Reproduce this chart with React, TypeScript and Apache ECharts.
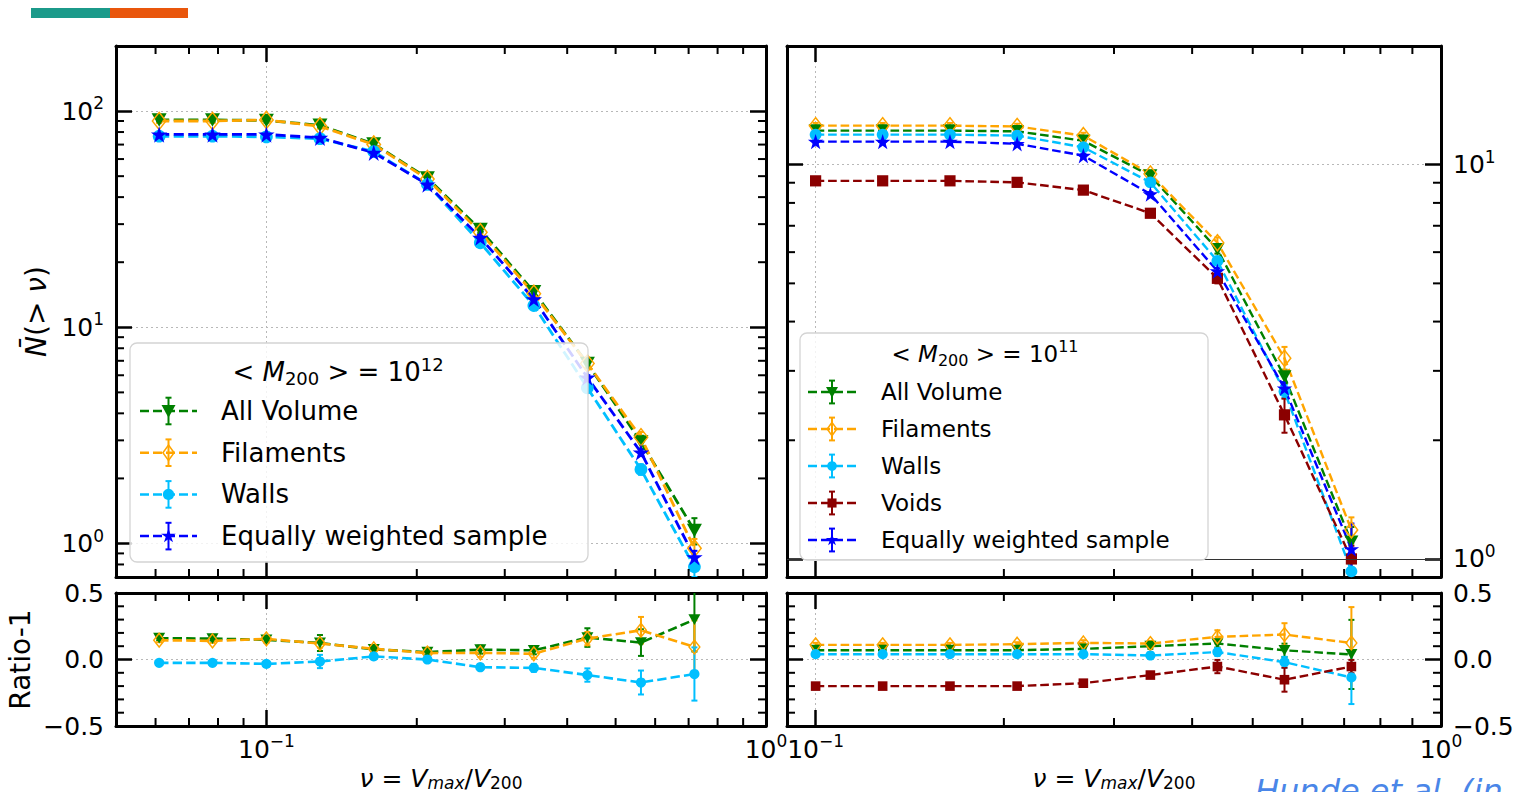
import React, { useEffect, useRef } from 'react';
import * as echarts from 'echarts';

const FONT = 'DejaVu Sans';

// ν = Vmax / V200 bin centres
const nuLeft = [0.061, 0.078, 0.1, 0.128, 0.164, 0.21, 0.268, 0.343, 0.439, 0.562, 0.719];
const nuRight = [0.1, 0.128, 0.164, 0.21, 0.268, 0.343, 0.439, 0.562, 0.719];

// <M200> = 10^12 : mean cumulative subhalo counts N(>ν)
const m12AllVolume = [91, 91, 90.5, 86, 70.5, 49, 28.3, 14.6, 6.8, 2.95, 1.15];
const m12AllVolumeErr = [2, 2, 2, 2.5, 2, 1.5, 1, 0.6, 0.35, 0.2, 0.16];
const m12Filaments = [90, 90, 91, 85, 70, 48.5, 27.5, 14.3, 6.8, 3.1, 0.95];
const m12FilamentsErr = [2, 2, 2, 2, 1.5, 1.2, 0.8, 0.5, 0.3, 0.18, 0.1];
const m12Walls = [76.5, 76.5, 76, 74.5, 65, 45.8, 24.6, 12.6, 5.25, 2.2, 0.78];
const m12WallsErr = [1.5, 1.5, 1.5, 1.5, 1.2, 1, 0.7, 0.4, 0.25, 0.12, 0.08];
const m12Equal = [78, 78, 78, 75.3, 64.2, 45.8, 26, 13.5, 5.86, 2.64, 0.865];
const m12EqualErr = [1, 1, 1, 1, 0.8, 0.6, 0.4, 0.3, 0.15, 0.08, 0.06];

// <M200> = 10^12 : ratio to the equally weighted sample, minus one
const m12AllVolumeRatio = [0.16, 0.157, 0.148, 0.124, 0.076, 0.056, 0.074, 0.069, 0.165, 0.127, 0.3];
const m12AllVolumeRatioErr = [0.015, 0.015, 0.02, 0.06, 0.02, 0.02, 0.03, 0.03, 0.07, 0.1, 0.24];
const m12FilamentsRatio = [0.145, 0.14, 0.155, 0.12, 0.081, 0.048, 0.05, 0.043, 0.157, 0.22, 0.094];
const m12FilamentsRatioErr = [0.015, 0.015, 0.02, 0.03, 0.02, 0.02, 0.03, 0.03, 0.05, 0.1, 0.2];
const m12WallsRatio = [-0.025, -0.025, -0.033, -0.015, 0.023, 0, -0.058, -0.063, -0.117, -0.173, -0.109];
const m12WallsRatioErr = [0.015, 0.015, 0.02, 0.05, 0.02, 0.02, 0.02, 0.03, 0.05, 0.09, 0.2];

// <M200> = 10^11 : mean cumulative subhalo counts N(>ν)
const m11AllVolume = [12.2, 12.2, 12.2, 12.15, 11.5, 9.38, 6.1, 2.9, 1.105];
const m11AllVolumeErr = [0.2, 0.2, 0.2, 0.2, 0.2, 0.18, 0.15, 0.12, 0.1];
const m11Filaments = [12.56, 12.56, 12.56, 12.5, 11.85, 9.47, 6.34, 3.23, 1.185];
const m11FilamentsErr = [0.2, 0.2, 0.2, 0.2, 0.2, 0.2, 0.2, 0.22, 0.09];
const m11Walls = [11.92, 11.92, 11.92, 11.85, 11.07, 9.02, 5.7, 2.66, 0.93];
const m11WallsErr = [0.15, 0.15, 0.15, 0.15, 0.15, 0.15, 0.12, 0.1, 0.08];
const m11Voids = [9.1, 9.1, 9.1, 9.02, 8.62, 7.53, 5.15, 2.32, 1.0];
const m11VoidsErr = [0.15, 0.15, 0.15, 0.15, 0.15, 0.15, 0.15, 0.23, 0.08];
const m11Equal = [11.44, 11.44, 11.44, 11.3, 10.54, 8.42, 5.37, 2.71, 1.06];
const m11EqualErr = [0.1, 0.1, 0.1, 0.1, 0.1, 0.1, 0.1, 0.1, 0.17];

// <M200> = 10^11 : ratio to the equally weighted sample, minus one
const m11AllVolumeRatio = [0.07, 0.07, 0.07, 0.07, 0.08, 0.1, 0.12, 0.069, 0.038];
const m11AllVolumeRatioErr = [0.015, 0.015, 0.015, 0.015, 0.02, 0.02, 0.03, 0.05, 0.26];
const m11FilamentsRatio = [0.11, 0.11, 0.11, 0.115, 0.125, 0.12, 0.17, 0.188, 0.124];
const m11FilamentsRatioErr = [0.015, 0.015, 0.015, 0.015, 0.02, 0.02, 0.05, 0.085, 0.27];
const m11WallsRatio = [0.04, 0.04, 0.04, 0.04, 0.04, 0.03, 0.056, -0.02, -0.135];
const m11WallsRatioErr = [0.015, 0.015, 0.015, 0.015, 0.02, 0.02, 0.03, 0.04, 0.2];
const m11VoidsRatio = [-0.2, -0.2, -0.2, -0.2, -0.178, -0.117, -0.053, -0.152, -0.053];
const m11VoidsRatioErr = [0.015, 0.015, 0.015, 0.015, 0.02, 0.02, 0.05, 0.09, 0.05];

// minor tick positions
const xMinorLeft = [0.06, 0.07, 0.08, 0.09, 0.2, 0.3, 0.4, 0.5, 0.6, 0.7, 0.8, 0.9];
const xMinorRight = [0.2, 0.3, 0.4, 0.5, 0.6, 0.7, 0.8, 0.9];
const yMinorM12 = [0.8, 0.9, 2, 3, 4, 5, 6, 7, 8, 9, 20, 30, 40, 50, 60, 70, 80, 90];
const yMinorM11 = [2, 3, 4, 5, 6, 7, 8, 9];
const yMinorRatio = [-0.4, -0.3, -0.2, -0.1, 0.1, 0.2, 0.3, 0.4];

const COLORS = {
  all: '#008000',
  fil: '#FFA500',
  walls: '#00BFFF',
  voids: '#8B0000',
  equal: '#0000FF',
};

const STAR =
  'path://M0,-10L2.245,-3.09L9.51,-3.09L3.633,1.18L5.88,8.09L0,3.82L-5.88,8.09L-3.633,1.18L-9.51,-3.09L-2.245,-3.09Z';

type Mark = 'tri' | 'dia' | 'circ' | 'star' | 'sq';

function markerOpts(kind: Mark, color: string, size: number) {
  switch (kind) {
    case 'tri':
      return { symbol: 'triangle', symbolRotate: 180, symbolSize: [size, size * 0.9], itemStyle: { color } };
    case 'dia':
      return {
        symbol: 'diamond',
        symbolSize: [size * 0.9, size * 1.15],
        itemStyle: { color: 'rgba(255,255,255,0)', borderColor: color, borderWidth: 1.5 },
      };
    case 'circ':
      return { symbol: 'circle', symbolSize: size * 0.85, itemStyle: { color } };
    case 'star':
      return { symbol: STAR, symbolSize: size * 1.1, itemStyle: { color } };
    default:
      return { symbol: 'rect', symbolSize: size * 0.8, itemStyle: { color } };
  }
}

function curve(name: string, xs: number[], ys: number[], color: string, kind: Mark, size: number, g: number, lw: number) {
  return {
    type: 'line',
    name,
    xAxisIndex: 2 * g,
    yAxisIndex: 2 * g,
    data: xs.map((x, i) => [x, ys[i]]),
    lineStyle: { color, width: lw, type: [lw * 3.6, lw * 1.6] },
    ...markerOpts(kind, color, size),
    showAllSymbol: true,
    clip: true,
    silent: true,
    z: 3,
  };
}

function errBars(xs: number[], ys: number[], es: number[], color: string, g: number) {
  return {
    type: 'custom',
    xAxisIndex: 2 * g,
    yAxisIndex: 2 * g,
    clip: true,
    silent: true,
    z: 3,
    encode: { x: 0, y: 1 },
    data: xs.map((x, i) => [x, ys[i], es[i]]),
    renderItem: (_p: any, api: any) => {
      const x = api.value(0);
      const y = api.value(1);
      const e = api.value(2);
      const a = api.coord([x, y + e]);
      const b = api.coord([x, y - e]);
      const st = { stroke: color, lineWidth: 2 };
      return {
        type: 'group',
        children: [
          { type: 'line', shape: { x1: a[0], y1: a[1], x2: b[0], y2: b[1] }, style: st },
          { type: 'line', shape: { x1: a[0] - 3, y1: a[1], x2: a[0] + 3, y2: a[1] }, style: st },
          { type: 'line', shape: { x1: b[0] - 3, y1: b[1], x2: b[0] + 3, y2: b[1] }, style: st },
        ],
      };
    },
  };
}

const MINOR_LEN = 8;

function xMinor(vals: number[], g: number, yRef: number) {
  return {
    type: 'custom',
    xAxisIndex: 2 * g,
    yAxisIndex: 2 * g,
    silent: true,
    z: 6,
    encode: { x: 0, y: 1 },
    data: vals.map((v) => [v, yRef]),
    renderItem: (params: any, api: any) => {
      const cs = params.coordSys;
      const px = api.coord([api.value(0), api.value(1)])[0];
      const yb = cs.y + cs.height;
      const st = { stroke: '#000', lineWidth: 2 };
      return {
        type: 'group',
        children: [
          { type: 'line', shape: { x1: px, y1: yb, x2: px, y2: yb - MINOR_LEN }, style: st },
          { type: 'line', shape: { x1: px, y1: cs.y, x2: px, y2: cs.y + MINOR_LEN }, style: st },
        ],
      };
    },
  };
}

function yMinor(vals: number[], g: number, xRef: number) {
  return {
    type: 'custom',
    xAxisIndex: 2 * g,
    yAxisIndex: 2 * g,
    silent: true,
    z: 6,
    encode: { x: 0, y: 1 },
    data: vals.map((v) => [xRef, v]),
    renderItem: (params: any, api: any) => {
      const cs = params.coordSys;
      const py = api.coord([api.value(0), api.value(1)])[1];
      const xr = cs.x + cs.width;
      const st = { stroke: '#000', lineWidth: 2 };
      return {
        type: 'group',
        children: [
          { type: 'line', shape: { x1: cs.x, y1: py, x2: cs.x + MINOR_LEN, y2: py }, style: st },
          { type: 'line', shape: { x1: xr, y1: py, x2: xr - MINOR_LEN, y2: py }, style: st },
        ],
      };
    },
  };
}

const supText = (e: number) => (e < 0 ? '\u2212' + -e : String(e));
const logLabel = (v: number) => {
  const e = Math.log10(v);
  const r = Math.round(e);
  if (Math.abs(e - r) > 1e-6) return '';
  return `{b|10}{s|${supText(r)}}`;
};
const ratioLabel = (v: number) =>
  Math.abs(v) < 1e-9 ? '0.0' : (v < 0 ? '\u2212' : '') + Math.abs(v).toFixed(1);

const tickRich = {
  b: { fontFamily: FONT, fontSize: 25, color: '#000', lineHeight: 30 },
  s: { fontFamily: FONT, fontSize: 17, color: '#000', lineHeight: 30, padding: [0, 0, 16, 0] },
};

const nameRich = {
  n: { fontFamily: FONT, fontSize: 25, color: '#000', lineHeight: 24 },
  i: { fontFamily: FONT, fontSize: 25, fontStyle: 'italic', color: '#000', lineHeight: 24 },
  si: { fontFamily: FONT, fontSize: 17, fontStyle: 'italic', color: '#000', lineHeight: 24, padding: [8, 0, 0, 0] },
  sn: { fontFamily: FONT, fontSize: 17, color: '#000', lineHeight: 24, padding: [8, 0, 0, 0] },
  big: { fontFamily: FONT, fontSize: 28, color: '#000', lineHeight: 32 },
  bigi: { fontFamily: FONT, fontSize: 28, fontStyle: 'italic', color: '#000', lineHeight: 32 },
};

type Panel = {
  left: number;
  top: number;
  width: number;
  height: number;
  x: [number, number];
  y: [number, number];
  ylog: boolean;
  xLabels: boolean;
  ySide: 'left' | 'right';
  xName?: string;
  yName?: string;
  yNameGap?: number;
};

const X_NAME = '{i|\u03bd}{n| = }{i|V}{si|max}{n|/}{i|V}{sn|200}';

const panels: Panel[] = [
  { left: 116, top: 46, width: 650, height: 531, x: [0.05, 1], y: [0.7, 200], ylog: true, xLabels: false, ySide: 'left', yName: '{bigi|N\u0304}{big|(> }{bigi|\u03bd}{big|)}', yNameGap: 64 },
  { left: 116, top: 593, width: 650, height: 133, x: [0.05, 1], y: [-0.5, 0.5], ylog: false, xLabels: true, ySide: 'left', xName: X_NAME, yName: '{big|Ratio-1}', yNameGap: 80 },
  { left: 787, top: 46, width: 654, height: 531, x: [0.09, 1], y: [0.9, 20], ylog: true, xLabels: false, ySide: 'right' },
  { left: 787, top: 593, width: 654, height: 133, x: [0.09, 1], y: [-0.5, 0.5], ylog: false, xLabels: true, ySide: 'right', xName: X_NAME },
];

const frameLine = { show: true, onZero: false, lineStyle: { color: '#000', width: 3 } };
const majorTick = { show: true, inside: true, length: 16, lineStyle: { color: '#000', width: 2.5 } };
const gridLine = { show: true, lineStyle: { color: '#b8b8b8', width: 1, type: [2, 3] } };

function buildAxes() {
  const xAxis: any[] = [];
  const yAxis: any[] = [];
  panels.forEach((p, g) => {
    const xBase = {
      type: 'log',
      logBase: 10,
      gridIndex: g,
      min: p.x[0],
      max: p.x[1],
      axisLine: frameLine,
      axisTick: majorTick,
      minorTick: { show: false },
    };
    xAxis.push({
      ...xBase,
      position: 'bottom',
      axisLabel: { show: p.xLabels, formatter: logLabel, rich: tickRich, margin: 8, showMinLabel: false, showMaxLabel: true },
      splitLine: gridLine,
      name: p.xName || '',
      nameLocation: 'middle',
      nameGap: 33,
      nameTextStyle: { rich: nameRich },
    });
    xAxis.push({ ...xBase, position: 'top', axisLabel: { show: false }, splitLine: { show: false } });

    const yBase = {
      type: p.ylog ? 'log' : 'value',
      logBase: 10,
      gridIndex: g,
      min: p.y[0],
      max: p.y[1],
      interval: p.ylog ? undefined : 0.5,
      axisLine: frameLine,
      axisTick: majorTick,
      minorTick: { show: false },
    };
    const label = {
      formatter: p.ylog ? logLabel : ratioLabel,
      rich: tickRich,
      fontFamily: FONT,
      fontSize: 25,
      color: '#000',
      margin: 12,
      showMinLabel: !p.ylog,
      showMaxLabel: !p.ylog,
    };
    yAxis.push({
      ...yBase,
      position: 'left',
      axisLabel: { ...label, show: p.ySide === 'left' },
      splitLine: gridLine,
      name: p.yName || '',
      nameLocation: 'middle',
      nameRotate: 90,
      nameGap: p.yNameGap || 60,
      nameTextStyle: { rich: nameRich },
    });
    yAxis.push({
      ...yBase,
      position: 'right',
      axisLabel: { ...label, show: p.ySide === 'right' },
      splitLine: { show: false },
    });
  });
  return { xAxis, yAxis };
}

type Entry = { label: string; color: string; kind: Mark };

const legendM12: Entry[] = [
  { label: 'All Volume', color: COLORS.all, kind: 'tri' },
  { label: 'Filaments', color: COLORS.fil, kind: 'dia' },
  { label: 'Walls', color: COLORS.walls, kind: 'circ' },
  { label: 'Equally weighted sample', color: COLORS.equal, kind: 'star' },
];
const legendM11: Entry[] = [
  { label: 'All Volume', color: COLORS.all, kind: 'tri' },
  { label: 'Filaments', color: COLORS.fil, kind: 'dia' },
  { label: 'Walls', color: COLORS.walls, kind: 'circ' },
  { label: 'Voids', color: COLORS.voids, kind: 'sq' },
  { label: 'Equally weighted sample', color: COLORS.equal, kind: 'star' },
];

function legendMarker(kind: Mark, cx: number, cy: number, color: string, s: number): any {
  const z = 101;
  if (kind === 'tri')
    return { type: 'polygon', z, shape: { points: [[cx - s * 0.5, cy - s * 0.42], [cx + s * 0.5, cy - s * 0.42], [cx, cy + s * 0.48]] }, style: { fill: color } };
  if (kind === 'dia')
    return { type: 'polygon', z, shape: { points: [[cx, cy - s * 0.55], [cx + s * 0.4, cy], [cx, cy + s * 0.55], [cx - s * 0.4, cy]] }, style: { fill: 'rgba(255,255,255,0)', stroke: color, lineWidth: 1.5 } };
  if (kind === 'circ') return { type: 'circle', z, shape: { cx, cy, r: s * 0.4 }, style: { fill: color } };
  if (kind === 'sq') return { type: 'rect', z, shape: { x: cx - s * 0.38, y: cy - s * 0.38, width: s * 0.76, height: s * 0.76 }, style: { fill: color } };
  const pts: number[][] = [];
  for (let k = 0; k < 10; k++) {
    const r = k % 2 === 0 ? s * 0.55 : s * 0.21;
    const a = (k * Math.PI) / 5;
    pts.push([cx + r * Math.sin(a), cy - r * Math.cos(a)]);
  }
  return { type: 'polygon', z, shape: { points: pts }, style: { fill: color } };
}

function legendBlock(
  box: { x: number; y: number; w: number; h: number },
  title: string,
  titleX: number,
  titleY: number,
  entries: Entry[],
  firstY: number,
  step: number,
  hx0: number,
  hx1: number,
  textX: number,
  fontSize: number,
  ms: number,
): any[] {
  const els: any[] = [];
  els.push({
    type: 'rect',
    z: 100,
    shape: { x: box.x, y: box.y, width: box.w, height: box.h, r: 7 },
    style: { fill: 'rgba(255,255,255,0.82)', stroke: '#d4d4d4', lineWidth: 1.3 },
  });
  const sub = Math.round(fontSize * 0.68);
  els.push({
    type: 'text',
    z: 101,
    style: {
      x: titleX,
      y: titleY,
      text: '{n|< }{i|M}{sn|200}{n| > = 10}{sp|' + title + '}',
      textAlign: 'center',
      textVerticalAlign: 'middle',
      rich: {
        n: { fontFamily: FONT, fontSize, fill: '#000', lineHeight: fontSize + 6 },
        i: { fontFamily: FONT, fontSize, fontStyle: 'italic', fill: '#000', lineHeight: fontSize + 6 },
        sn: { fontFamily: FONT, fontSize: sub, fill: '#000', lineHeight: fontSize + 6, padding: [12, 0, 0, 0] },
        sp: { fontFamily: FONT, fontSize: sub, fill: '#000', lineHeight: fontSize + 6, padding: [0, 0, 16, 0] },
      },
    },
  });
  const hm = (hx0 + hx1) / 2;
  entries.forEach((e, i) => {
    const y = firstY + i * step;
    els.push({
      type: 'line',
      z: 101,
      shape: { x1: hx0, y1: y, x2: hx1, y2: y },
      style: { stroke: e.color, lineWidth: 2.5, lineDash: [9, 4] },
    });
    const eh = ms * 0.95;
    els.push({ type: 'line', z: 101, shape: { x1: hm, y1: y - eh, x2: hm, y2: y + eh }, style: { stroke: e.color, lineWidth: 2 } });
    els.push({ type: 'line', z: 101, shape: { x1: hm - 3, y1: y - eh, x2: hm + 3, y2: y - eh }, style: { stroke: e.color, lineWidth: 2 } });
    els.push({ type: 'line', z: 101, shape: { x1: hm - 3, y1: y + eh, x2: hm + 3, y2: y + eh }, style: { stroke: e.color, lineWidth: 2 } });
    els.push(legendMarker(e.kind, hm, y, e.color, ms));
    els.push({
      type: 'text',
      z: 101,
      style: {
        x: textX,
        y,
        text: e.label,
        fill: '#000',
        font: `${fontSize}px "${FONT}"`,
        textVerticalAlign: 'middle',
      },
    });
  });
  return els;
}

function buildOption() {
  const { xAxis, yAxis } = buildAxes();
  const series: any[] = [];

  // <M200> = 10^12, cumulative counts
  series.push(errBars(nuLeft, m12AllVolume, m12AllVolumeErr, COLORS.all, 0));
  series.push(curve('All Volume', nuLeft, m12AllVolume, COLORS.all, 'tri', 15, 0, 2.8));
  series.push(errBars(nuLeft, m12Filaments, m12FilamentsErr, COLORS.fil, 0));
  series.push(curve('Filaments', nuLeft, m12Filaments, COLORS.fil, 'dia', 15, 0, 2.8));
  series.push(errBars(nuLeft, m12Walls, m12WallsErr, COLORS.walls, 0));
  series.push(curve('Walls', nuLeft, m12Walls, COLORS.walls, 'circ', 15, 0, 2.8));
  series.push(errBars(nuLeft, m12Equal, m12EqualErr, COLORS.equal, 0));
  series.push(curve('Equally weighted sample', nuLeft, m12Equal, COLORS.equal, 'star', 15, 0, 2.8));

  // <M200> = 10^12, ratios
  series.push(errBars(nuLeft, m12AllVolumeRatio, m12AllVolumeRatioErr, COLORS.all, 1));
  series.push(curve('All Volume', nuLeft, m12AllVolumeRatio, COLORS.all, 'tri', 12, 1, 2.6));
  series.push(errBars(nuLeft, m12FilamentsRatio, m12FilamentsRatioErr, COLORS.fil, 1));
  series.push(curve('Filaments', nuLeft, m12FilamentsRatio, COLORS.fil, 'dia', 12, 1, 2.6));
  series.push(errBars(nuLeft, m12WallsRatio, m12WallsRatioErr, COLORS.walls, 1));
  series.push(curve('Walls', nuLeft, m12WallsRatio, COLORS.walls, 'circ', 12, 1, 2.6));

  // <M200> = 10^11, cumulative counts
  series.push(errBars(nuRight, m11AllVolume, m11AllVolumeErr, COLORS.all, 2));
  series.push(curve('All Volume', nuRight, m11AllVolume, COLORS.all, 'tri', 14, 2, 2.4));
  series.push(errBars(nuRight, m11Filaments, m11FilamentsErr, COLORS.fil, 2));
  series.push(curve('Filaments', nuRight, m11Filaments, COLORS.fil, 'dia', 14, 2, 2.4));
  series.push(errBars(nuRight, m11Walls, m11WallsErr, COLORS.walls, 2));
  series.push(curve('Walls', nuRight, m11Walls, COLORS.walls, 'circ', 14, 2, 2.4));
  series.push(errBars(nuRight, m11Voids, m11VoidsErr, COLORS.voids, 2));
  series.push(curve('Voids', nuRight, m11Voids, COLORS.voids, 'sq', 14, 2, 2.4));
  series.push(errBars(nuRight, m11Equal, m11EqualErr, COLORS.equal, 2));
  series.push({
    ...curve('Equally weighted sample', nuRight, m11Equal, COLORS.equal, 'star', 14, 2, 2.4),
    markLine: {
      silent: true,
      symbol: ['none', 'none'],
      label: { show: false },
      lineStyle: { color: '#333', width: 1.2, type: 'solid' },
      data: [{ yAxis: 1 }],
    },
  });

  // <M200> = 10^11, ratios
  series.push(errBars(nuRight, m11AllVolumeRatio, m11AllVolumeRatioErr, COLORS.all, 3));
  series.push(curve('All Volume', nuRight, m11AllVolumeRatio, COLORS.all, 'tri', 12, 3, 2.4));
  series.push(errBars(nuRight, m11FilamentsRatio, m11FilamentsRatioErr, COLORS.fil, 3));
  series.push(curve('Filaments', nuRight, m11FilamentsRatio, COLORS.fil, 'dia', 12, 3, 2.4));
  series.push(errBars(nuRight, m11WallsRatio, m11WallsRatioErr, COLORS.walls, 3));
  series.push(curve('Walls', nuRight, m11WallsRatio, COLORS.walls, 'circ', 12, 3, 2.4));
  series.push(errBars(nuRight, m11VoidsRatio, m11VoidsRatioErr, COLORS.voids, 3));
  series.push(curve('Voids', nuRight, m11VoidsRatio, COLORS.voids, 'sq', 12, 3, 2.4));

  // minor ticks on every side of each panel
  series.push(xMinor(xMinorLeft, 0, 1), yMinor(yMinorM12, 0, 0.1));
  series.push(xMinor(xMinorLeft, 1, 0), yMinor(yMinorRatio, 1, 0.1));
  series.push(xMinor(xMinorRight, 2, 1), yMinor(yMinorM11, 2, 0.1));
  series.push(xMinor(xMinorRight, 3, 0), yMinor(yMinorRatio, 3, 0.1));

  const graphics: any[] = [
    { type: 'rect', shape: { x: 31, y: 8, width: 79, height: 10 }, style: { fill: '#1b9a8a' } },
    { type: 'rect', shape: { x: 110, y: 8, width: 78, height: 10 }, style: { fill: '#e9560c' } },
    ...legendBlock({ x: 130, y: 343, w: 458, h: 219 }, '12', 338, 372, legendM12, 411, 41.7, 140, 197, 221, 26, 14),
    ...legendBlock({ x: 800, y: 333, w: 408, h: 227 }, '11', 985, 354, legendM11, 392, 37, 808, 856, 881, 23, 12),
    {
      type: 'text',
      z: 101,
      style: {
        x: 1255,
        y: 775,
        text: 'Hunde et al. (in',
        fill: '#4a86e8',
        font: `italic 32px "${FONT}"`,
        textVerticalAlign: 'top',
      },
    },
  ];

  return {
    animation: false,
    backgroundColor: '#fff',
    textStyle: { fontFamily: FONT },
    grid: panels.map((p) => ({
      left: p.left,
      top: p.top,
      width: p.width,
      height: p.height,
      containLabel: false,
      outerBoundsMode: 'none',
    })),
    xAxis,
    yAxis,
    series,
    graphic: { elements: graphics },
  };
}

export default function App() {
  const ref = useRef<HTMLDivElement>(null);
  useEffect(() => {
    if (!ref.current) return;
    const chart = echarts.init(ref.current, undefined, { renderer: 'svg' });
    chart.setOption(buildOption() as any);
    return () => chart.dispose();
  }, []);
  return <div ref={ref} style={{ position: 'absolute', left: 0, top: 0, width: 1518, height: 792 }} />;
}
